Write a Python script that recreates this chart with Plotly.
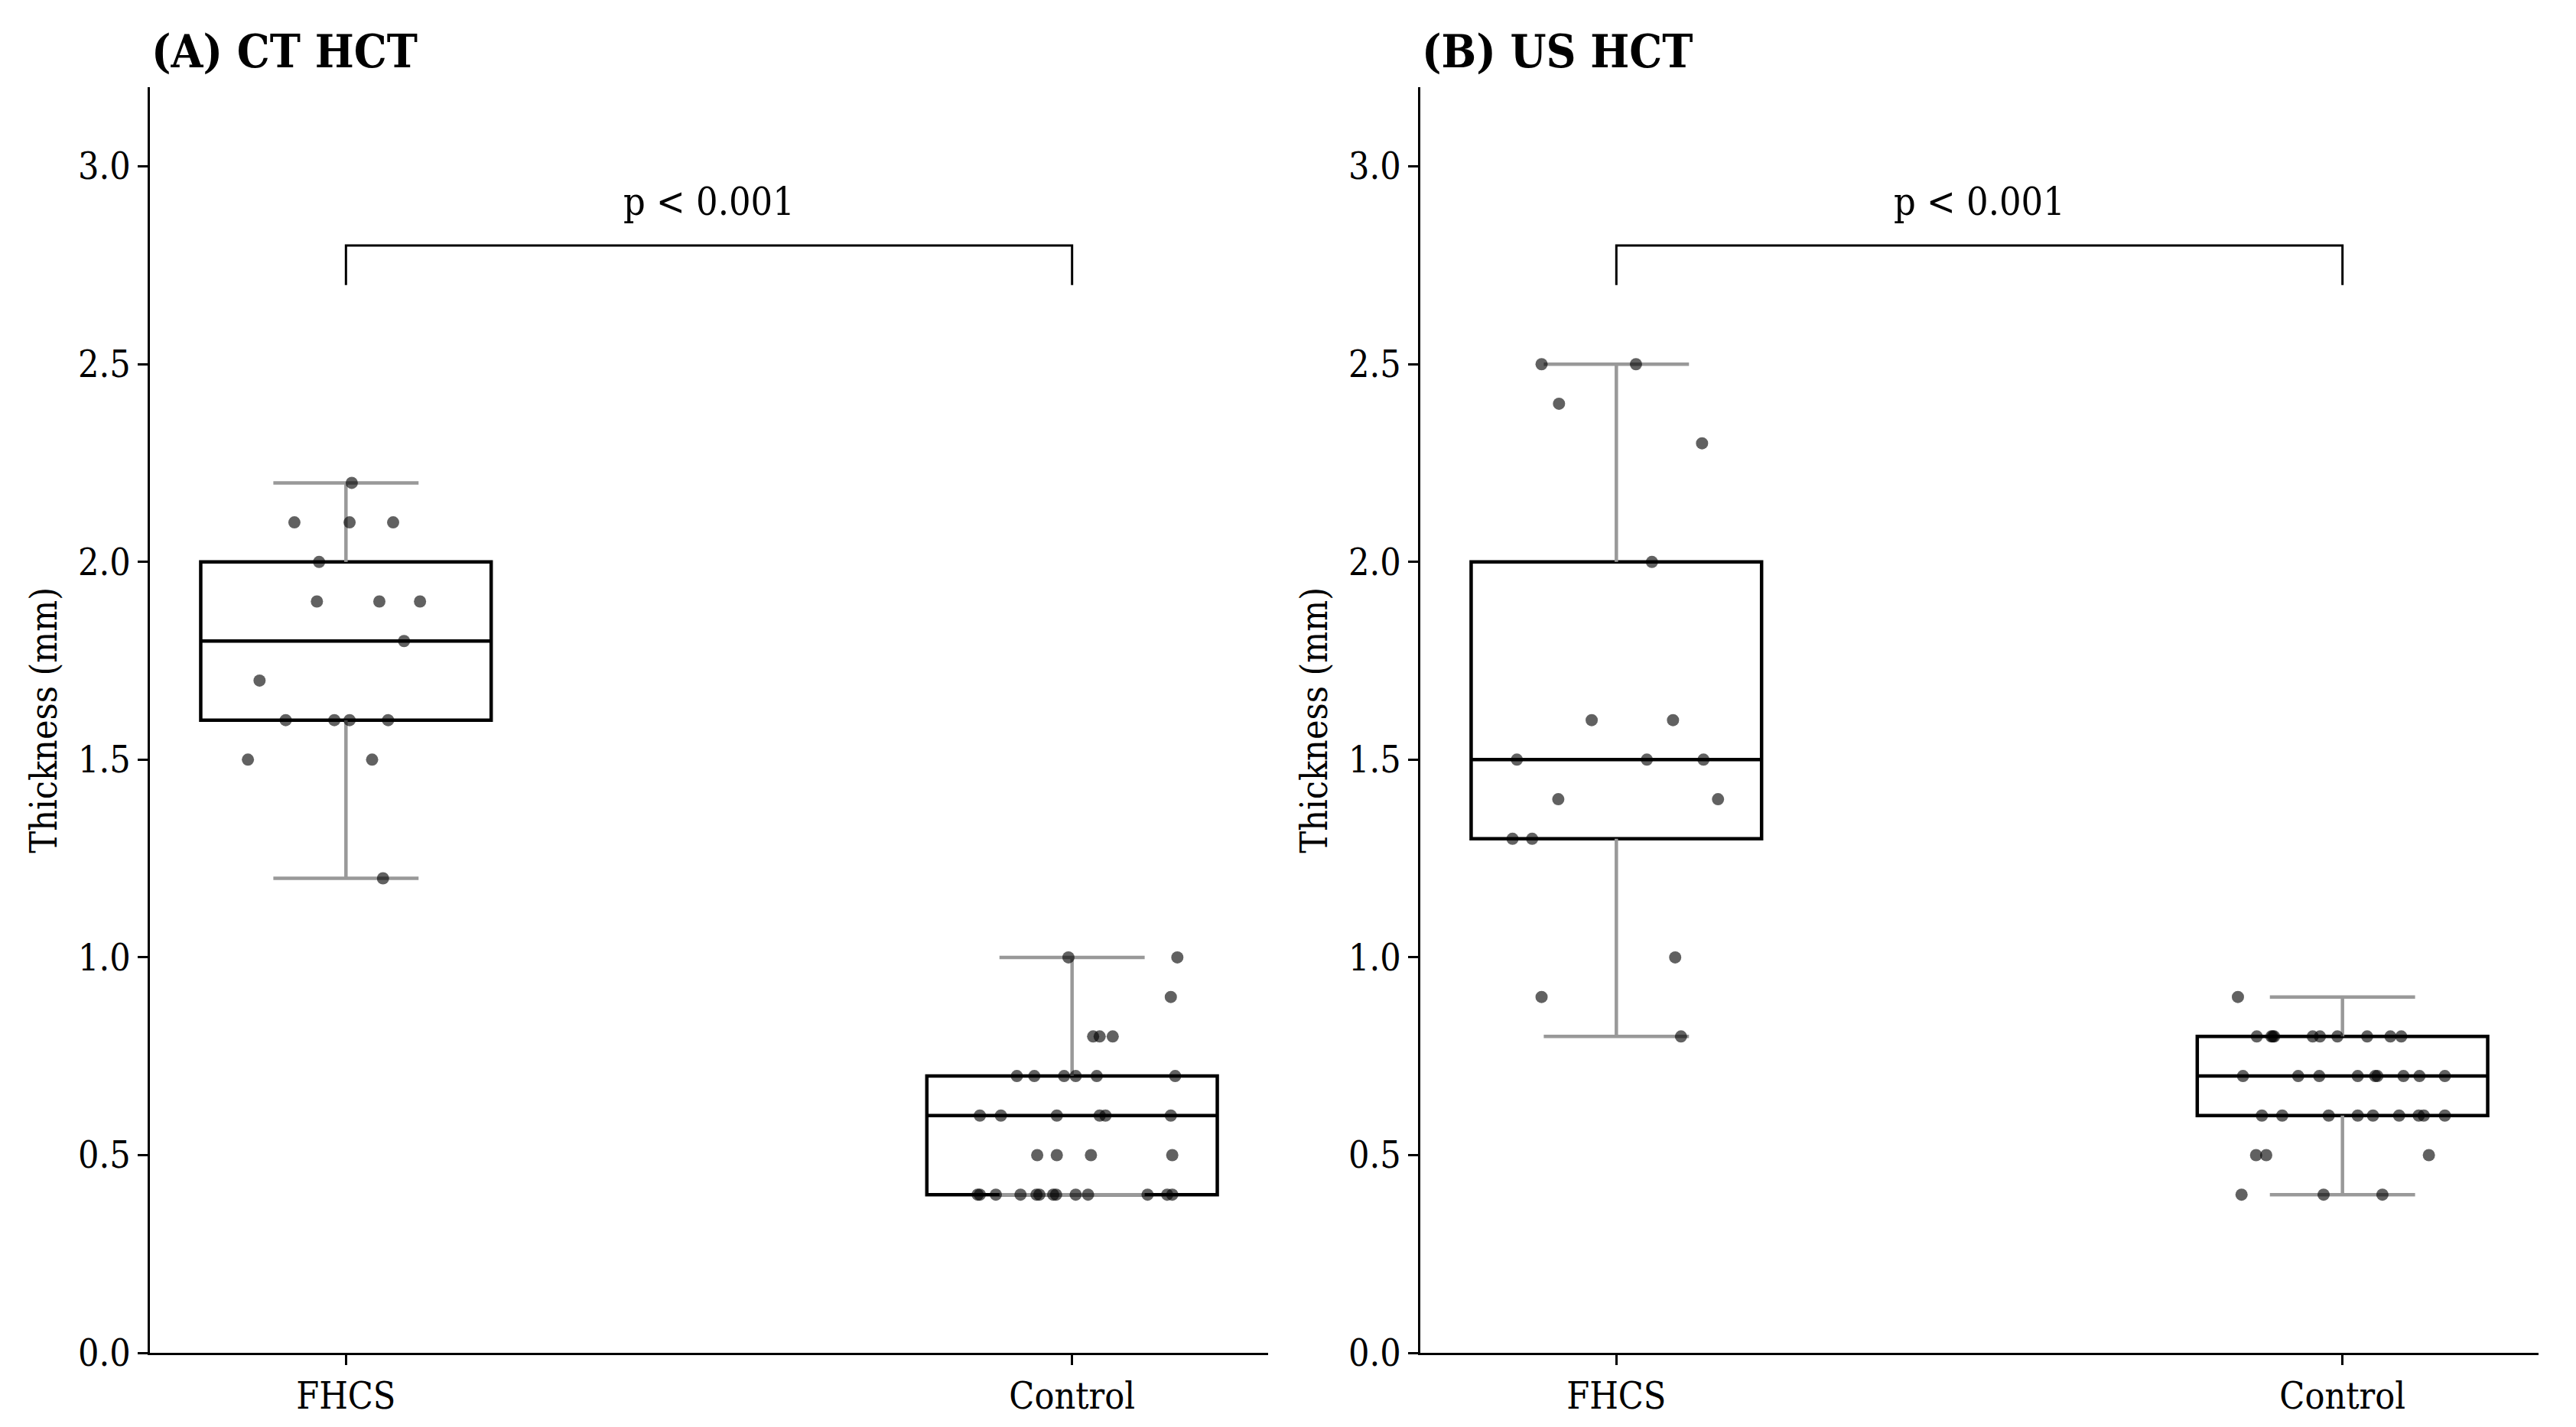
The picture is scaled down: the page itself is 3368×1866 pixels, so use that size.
import plotly.graph_objects as go
from plotly.subplots import make_subplots

# Categories and panel titles
groups = ["FHCS", "Control"]
panel_titles = ["(A) CT HCT", "(B) US HCT"]
p_text = "p < 0.001"

# Thickness values (mm) read from the strip points, with their horizontal jitter
ct_fhcs = [2.2, 2.1, 2.1, 2.1, 2.0, 1.9, 1.9, 1.9, 1.8, 1.7, 1.6, 1.6, 1.6, 1.6, 1.5, 1.5, 1.2]
ct_fhcs_jit = [0.008, -0.071, 0.005, 0.065, -0.037, -0.040, 0.046, 0.102, 0.080, -0.119,
               -0.083, -0.016, 0.005, 0.058, -0.135, 0.036, 0.051]

ct_ctrl = [1.0, 1.0, 0.9, 0.8, 0.8, 0.8,
           0.7, 0.7, 0.7, 0.7, 0.7, 0.7,
           0.6, 0.6, 0.6, 0.6, 0.6, 0.6,
           0.5, 0.5, 0.5, 0.5,
           0.4, 0.4, 0.4, 0.4, 0.4, 0.4, 0.4, 0.4, 0.4, 0.4, 0.4, 0.4, 0.4]
ct_ctrl_jit = [-0.005, 0.145, 0.136, 0.029, 0.038, 0.056,
               -0.076, -0.052, -0.011, 0.005, 0.034, 0.142,
               -0.127, -0.098, -0.021, 0.038, 0.046, 0.136,
               -0.048, -0.021, 0.026, 0.138,
               -0.130, -0.127, -0.105, -0.071, -0.049, -0.045, -0.026, -0.022, 0.005, 0.022,
               0.104, 0.131, 0.138]

us_fhcs = [2.5, 2.5, 2.4, 2.3, 2.0, 1.6, 1.6, 1.5, 1.5, 1.5, 1.4, 1.4, 1.3, 1.3, 1.0, 0.9, 0.8]
us_fhcs_jit = [-0.103, 0.027, -0.079, 0.118, 0.049, -0.034, 0.078, -0.137, 0.042, 0.120,
               -0.080, 0.140, -0.143, -0.116, 0.081, -0.103, 0.089]

us_ctrl = [0.9,
           0.8, 0.8, 0.8, 0.8, 0.8, 0.8, 0.8, 0.8, 0.8, 0.8,
           0.7, 0.7, 0.7, 0.7, 0.7, 0.7, 0.7, 0.7, 0.7,
           0.6, 0.6, 0.6, 0.6, 0.6, 0.6, 0.6, 0.6, 0.6,
           0.5, 0.5, 0.5,
           0.4, 0.4, 0.4]
us_ctrl_jit = [-0.144,
               -0.118, -0.098, -0.096, -0.094, -0.041, -0.031, -0.007, 0.034, 0.066, 0.081,
               -0.137, -0.061, -0.032, 0.021, 0.045, 0.048, 0.084, 0.106, 0.141,
               -0.111, -0.083, -0.019, 0.021, 0.042, 0.078, 0.105, 0.112, 0.141,
               -0.119, -0.105, 0.119,
               -0.139, -0.026, 0.055]

# Box statistics per panel: [FHCS, Control]
ct_q1 = [1.6, 0.4]
ct_med = [1.8, 0.6]
ct_q3 = [2.0, 0.7]
ct_lo = [1.2, 0.4]
ct_hi = [2.2, 1.0]

us_q1 = [1.3, 0.6]
us_med = [1.5, 0.7]
us_q3 = [2.0, 0.8]
us_lo = [0.8, 0.4]
us_hi = [2.5, 0.9]

# Significance bracket (data units)
bracket_low = 2.7
bracket_high = 2.8

FONT = "DejaVu Serif Condensed, DejaVu Serif, serif"
W, H = 3368, 1866

fig = make_subplots(rows=1, cols=2)

panels = [
    (ct_q1, ct_med, ct_q3, ct_lo, ct_hi, [(ct_fhcs, ct_fhcs_jit), (ct_ctrl, ct_ctrl_jit)]),
    (us_q1, us_med, us_q3, us_lo, us_hi, [(us_fhcs, us_fhcs_jit), (us_ctrl, us_ctrl_jit)]),
]

for col, (q1, med, q3, lo, hi, strips) in enumerate(panels, start=1):
    pos = list(range(len(groups)))

    # box + median (black)
    fig.add_trace(go.Box(
        x=pos, q1=q1, median=med, q3=q3, lowerfence=q1, upperfence=q3,
        width=0.4, whiskerwidth=0, boxpoints=False,
        line=dict(color="black", width=4.5), fillcolor="rgba(0,0,0,0)",
        showlegend=False, hoverinfo="skip"
    ), row=1, col=col)

    # whiskers and caps (grey)
    wx, wy = [], []
    for i in pos:
        wx += [i, i, None, i, i, None, i - 0.1, i + 0.1, None, i - 0.1, i + 0.1, None]
        wy += [q3[i], hi[i], None, q1[i], lo[i], None, hi[i], hi[i], None, lo[i], lo[i], None]
    fig.add_trace(go.Scatter(
        x=wx, y=wy, mode="lines", line=dict(color="#999999", width=4.5),
        showlegend=False, hoverinfo="skip"
    ), row=1, col=col)

    # strip points
    for i, (vals, jit) in enumerate(strips):
        fig.add_trace(go.Scatter(
            x=[i + j for j in jit], y=vals, mode="markers",
            marker=dict(color="rgba(0,0,0,0.62)", size=16),
            showlegend=False
        ), row=1, col=col)

    # bracket
    fig.add_trace(go.Scatter(
        x=[0, 0, 1, 1], y=[bracket_low, bracket_high, bracket_high, bracket_low],
        mode="lines", line=dict(color="black", width=3),
        showlegend=False, hoverinfo="skip"
    ), row=1, col=col)

    xa = "x" if col == 1 else "x2"
    ya = "y" if col == 1 else "y2"
    fig.add_annotation(x=0.5, y=2.85, xref=xa, yref=ya, text=p_text,
                       showarrow=False, yanchor="bottom",
                       font=dict(family=FONT, size=50, color="black"))

x_domains = [[196 / W, 1658 / W], [1857 / W, 3319 / W]]
y_domain = [(H - 1796) / H, (H - 116) / H]

for col in (1, 2):
    fig.update_xaxes(
        domain=x_domains[col - 1], range=[-0.27, 1.27],
        tickvals=[0, 1], ticktext=groups,
        showline=True, linecolor="black", linewidth=2.5,
        ticks="outside", ticklen=13, tickwidth=2.5, tickcolor="black",
        showgrid=False, zeroline=False,
        tickfont=dict(family=FONT, size=48, color="black"),
        row=1, col=col
    )
    fig.update_yaxes(
        domain=y_domain, range=[0, 3.2],
        tickvals=[0, 0.5, 1.0, 1.5, 2.0, 2.5, 3.0], tickformat=".1f",
        showline=True, linecolor="black", linewidth=2.5,
        ticks="outside", ticklen=13, tickwidth=2.5, tickcolor="black",
        showgrid=False, zeroline=False,
        tickfont=dict(family=FONT, size=48, color="black"),
        row=1, col=col
    )
    # panel title
    fig.add_annotation(x=x_domains[col - 1][0], y=y_domain[1], xref="paper", yref="paper",
                       text="<b>" + panel_titles[col - 1] + "</b>", showarrow=False,
                       xanchor="left", yanchor="bottom", yshift=10,
                       font=dict(family=FONT, size=60, color="black"))
    # y axis title
    fig.add_annotation(x=x_domains[col - 1][0], y=sum(y_domain) / 2, xref="paper", yref="paper",
                       text="Thickness (mm)", textangle=-90, showarrow=False,
                       xanchor="center", yanchor="middle", xshift=-139,
                       font=dict(family=FONT, size=48, color="black"))

fig.update_layout(
    width=W, height=H,
    margin=dict(l=0, r=0, t=0, b=0),
    plot_bgcolor="white", paper_bgcolor="white",
    showlegend=False
)

# pin the figure to the window corner so the page is exactly the window size
pin = (
    "document.documentElement.style.overflow='hidden';"
    "document.body.style.margin='0';document.body.style.overflow='hidden';"
    "var gd=document.getElementById('{plot_id}');"
    "gd.style.position='fixed';gd.style.left='0px';gd.style.top='0px';"
)
fig.write_html("out.html", config={"displayModeBar": False}, post_script=pin)
